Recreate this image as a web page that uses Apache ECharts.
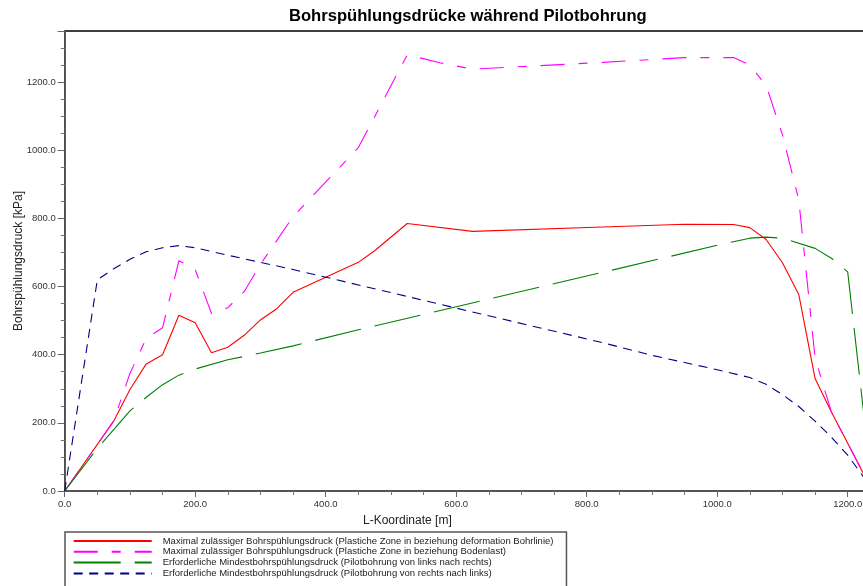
<!DOCTYPE html>
<html>
<head>
<meta charset="utf-8">
<script src="https://cdn.jsdelivr.net/npm/echarts@6/dist/echarts.min.js"></script>
<style>
html,body{margin:0;padding:0;background:#fff;}
#chart{width:863px;height:586px;}
</style>
</head>
<body>
<div id="chart"></div>
<script>
// ---- data (L-Koordinate [m], Druck [kPa]) ----
const seriesNames = [
  'Maximal zulässiger Bohrspühlungsdruck (Plastiche Zone in beziehung deformation Bohrlinie)',
  'Maximal zulässiger Bohrspühlungsdruck (Plastiche Zone in beziehung Bodenlast)',
  'Erforderliche Mindestbohrspühlungsdruck (Pilotbohrung von links nach rechts)',
  'Erforderliche Mindestbohrspühlungsdruck (Pilotbohrung von rechts nach links)'
];
const maxDeformation = [
  [0,0],[75,205],[100,298],[125,373],[150,400],[175,516],[200,494],[225,406],[250,422],
  [275,457],[300,502],[325,535],[350,583],[450,671],[475,705],[525,785],[625,762],
  [825,775],[950,783],[1025,782],[1050,773],[1075,738],[1100,670],[1125,577],
  [1150,330],[1175,232],[1200,140],[1238,0]
];
const maxBodenlast = [
  [0,0],[75,205],[100,345],[125,448],[150,479],[175,676],[200,650],[225,521],[250,538],
  [275,585],[300,665],[350,805],[450,1008],[525,1280],[575,1257],[625,1238],[825,1258],
  [950,1272],[1025,1272],[1050,1250],[1075,1190],[1100,1045],[1125,855],[1150,390],
  [1175,232],[1200,140],[1238,0]
];
const minLinksRechts = [
  [0,0],[50,125],[100,235],[125,275],[150,312],[175,340],[200,358],[250,385],[300,405],
  [350,426],[450,473],[1000,721],[1050,742],[1075,745],[1100,742],[1150,712],[1175,683],
  [1200,643],[1238,0]
];
const minRechtsLinks = [
  [0,0],[50,620],[75,652],[100,680],[125,702],[150,714],[175,720],[200,714],[250,692],
  [300,671],[350,650],[825,435],[900,398],[1000,356],[1050,333],[1075,313],[1100,283],
  [1125,248],[1150,205],[1175,158],[1200,105],[1240,0]
];
const xTickStep = 200;
const yTickStep = 200;

const FONT = 'Liberation Sans, Arial, Helvetica, sans-serif';
const chart = echarts.init(document.getElementById('chart'), null, {renderer: 'canvas'});

function mk(name, data, color, dash) {
  return {
    name: name, type: 'line', data: data, symbol: 'none',
    animation: false, clip: true,
    lineStyle: {color: color, width: 1.1, type: dash},
    emphasis: {disabled: true}
  };
}

const option = {
  animation: false,
  backgroundColor: '#fff',
  title: {
    text: 'Bohrspühlungsdrücke während Pilotbohrung',
    left: 289, top: 8, padding: 0,
    textStyle: {fontFamily: FONT, fontSize: 16.6, fontWeight: 'bold', color: '#000'}
  },
  grid: {
    left: 64.7, top: 31, bottom: 95, right: -10.8,
    outerBoundsMode: 'none',
    show: true, borderColor: '#000', borderWidth: 1.3, containLabel: false
  },
  legend: {
    type: 'plain', orient: 'vertical', left: 65, top: 532, height: 60,
    padding: [4, 13, 12, 7.7],
    itemWidth: 78, itemHeight: 10, itemGap: 0.8,
    borderColor: '#555', borderWidth: 1.5, backgroundColor: '#fff',
    selectedMode: false,
    itemStyle: {opacity: 0},
    textStyle: {fontFamily: FONT, fontSize: 9.5, color: '#222', padding: [0,0,0,6], lineHeight: 10},
    data: seriesNames
  },
  xAxis: {
    type: 'value', min: 0, max: 1240, interval: xTickStep,
    axisLine: {show: true, lineStyle: {color: '#555', width: 1.8}},
    axisTick: {show: true, length: 6, lineStyle: {color: '#666', width: 1}},
    minorTick: {show: true, splitNumber: 4, length: 4, lineStyle: {color: '#777', width: 1}},
    splitLine: {show: false},
    axisLabel: {fontFamily: FONT, fontSize: 9.5, color: '#333', margin: 8,
      formatter: v => v.toFixed(1)}
  },
  yAxis: {
    type: 'value', min: 0, max: 1350, interval: yTickStep,
    name: 'Bohrspühlungsdruck [kPa]', nameLocation: 'middle', nameGap: 40,
    nameMoveOverlap: false,
    nameTextStyle: {fontFamily: FONT, fontSize: 12, color: '#222'},
    axisLine: {show: true, lineStyle: {color: '#555', width: 1.8}},
    axisTick: {show: true, length: 7, lineStyle: {color: '#666', width: 1}},
    minorTick: {show: true, splitNumber: 4, length: 4, lineStyle: {color: '#777', width: 1}},
    splitLine: {show: false},
    axisLabel: {fontFamily: FONT, fontSize: 9.5, color: '#333', margin: 9, showMaxLabel: false,
      formatter: v => v.toFixed(1)}
  },
  graphic: [{
    type: 'text', left: 363, top: 515,
    style: {text: 'L-Koordinate [m]', fontFamily: FONT, fontSize: 12, fill: '#222'}
  }],
  series: [
    mk(seriesNames[0], maxDeformation, '#ff0000', 'solid'),
    mk(seriesNames[1], maxBodenlast, '#ff00ff', [24, 14, 9, 14]),
    mk(seriesNames[2], minLinksRechts, '#008000', [47, 14]),
    mk(seriesNames[3], minRechtsLinks, '#000080', [9, 6.5])
  ]
};
chart.setOption(option);
</script>
</body>
</html>
